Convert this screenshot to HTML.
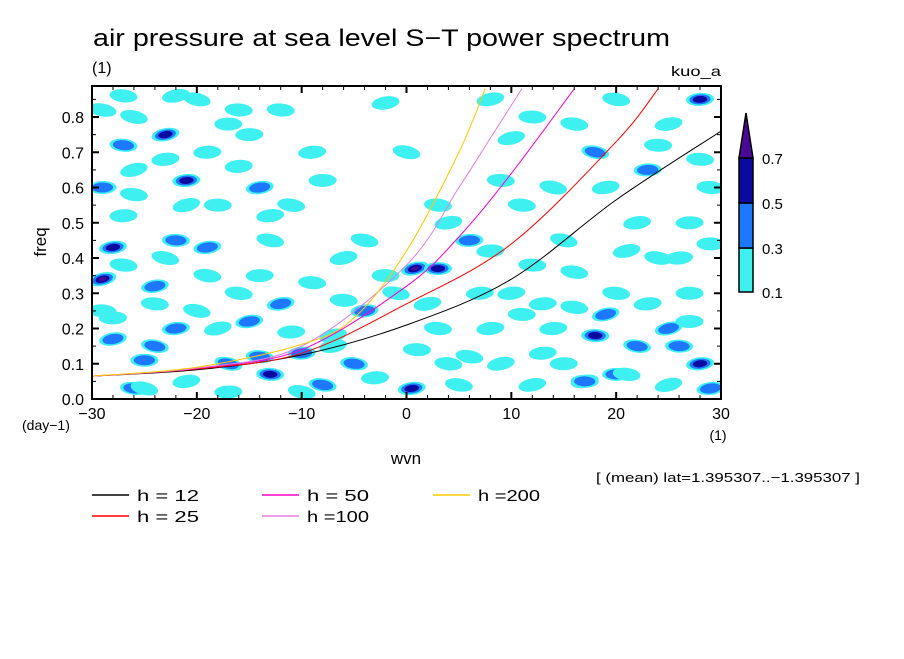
<!DOCTYPE html>
<html><head><meta charset="utf-8"><style>
body{margin:0;background:#fff;width:904px;height:654px;overflow:hidden;font-family:"Liberation Sans",sans-serif}
svg text{font-family:"Liberation Sans",sans-serif;fill:#000}
</style></head><body>
<svg id="c" width="904" height="654"></svg>
<script>
const curveNames=["h = 12","h = 25","h = 50","h =100","h =200"];
const curveColors=["#000","#ff0000","#ff00c8","#e080e0","#ffc800"];
const curveK=[[-30,-20,-10,0,10,20,30],[-30,-20,-10,0,10,20,24],[-30,-20,-10,0,5,10,16],[-30,-20,-10,0,5,8,11],[-30,-20,-10,-5,0,5,7.5]];
const curveF=[[0.065,0.083,0.125,0.21,0.34,0.565,0.76],[0.065,0.085,0.13,0.27,0.44,0.73,0.88],[0.065,0.087,0.14,0.32,0.46,0.64,0.88],[0.065,0.088,0.15,0.38,0.6,0.74,0.88],[0.065,0.09,0.155,0.23,0.42,0.7,0.88]];
const blobK=[-29,-28,-29,-27,-26,-28,-27,-29,-24,-23,-21,-22,-19,-18,-22,-25,-26,-17,-14,-15,-12,-13,-12,-10,-13,-8,-6,-4,-2,-5,0.8,0.5,3,3,0,-2,6,9,6,12,14,18,22,25,28,27,20,15,22,27,29,18,25,28,12,20,8,-9,-18,-16,-26,10,15,3,-20,-24,-19,-16,24,17,13,26,-11,-7,8,20,4,
 -25,-21,-17,-14,-10,-7,-3,1,5,9,13,17,21,25,29,-28,-24,-20,-15,-11,-6,-1,2,7,11,16,19,23,27,-27,-23,-19,-14,-9,-4,4,8,12,16,21,26,29,-26,-21,-13,-8,11,14,19,23,28,-29,-22,-16,24,16,10,-23,-17,-27];
const blobF=[0.34,0.43,0.6,0.72,0.8,0.17,0.52,0.25,0.15,0.75,0.62,0.45,0.35,0.2,0.2,0.11,0.03,0.1,0.6,0.75,0.82,0.45,0.27,0.13,0.07,0.04,0.4,0.25,0.35,0.1,0.37,0.03,0.37,0.55,0.7,0.84,0.45,0.62,0.12,0.04,0.2,0.18,0.15,0.2,0.1,0.3,0.3,0.45,0.5,0.5,0.6,0.7,0.78,0.85,0.8,0.85,0.85,0.7,0.55,0.3,0.65,0.3,0.1,0.2,0.85,0.32,0.7,0.82,0.4,0.05,0.27,0.15,0.55,0.18,0.2,0.07,0.1,
 0.03,0.05,0.02,0.12,0.02,0.15,0.06,0.14,0.04,0.1,0.13,0.05,0.07,0.04,0.03,0.23,0.27,0.25,0.22,0.19,0.28,0.3,0.27,0.3,0.24,0.26,0.24,0.27,0.22,0.38,0.4,0.43,0.35,0.33,0.45,0.5,0.42,0.38,0.36,0.42,0.4,0.44,0.58,0.55,0.52,0.62,0.55,0.6,0.6,0.65,0.68,0.82,0.86,0.66,0.72,0.78,0.74,0.68,0.78,0.86];
const blobL=[4,3,2,2,1,2,1,1,2,3,3,2,1,1,2,2,2,2,2,1,1,1,2,2,3,2,1,2,1,2,4,3,3,1,1,1,2,1,1,1,1,3,2,2,3,1,1,1,1,1,1,2,1,3,1,1,1,1,1,1,1,1,1,1,1,2,1,1,1,2,1,2,1,1,1,2,1,
 1,1,1,2,1,1,1,1,1,1,1,2,1,1,2,1,1,1,2,1,1,1,1,1,1,1,2,1,1,1,1,2,1,1,1,1,1,1,1,1,1,1,1,1,1,1,1,1,1,2,1,1,1,1,1,1,1,1,1,1];
const X0=92,X1=721,Y0=399,Y1=86;
const xs=k=>X0+(k+30)/60*(X1-X0);
const ys=f=>Y0-f/0.888*(Y0-Y1);
const NS="http://www.w3.org/2000/svg",svg=document.getElementById('c');
function el(t,a,p){const e=document.createElementNS(NS,t);for(const k in a)e.setAttribute(k,a[k]);(p||svg).appendChild(e);return e;}
function tx(s,x,y,sz,anchor,len){const a={x:x,y:y,'font-size':sz,'text-anchor':anchor||'start'};if(len){a.textLength=len;a.lengthAdjust='spacingAndGlyphs';}const e=el('text',a);e.textContent=s;return e;}
const fills=["#3ff0f0","#1e78ff","#0a0aa0","#4b0a96"];
el('clipPath',{id:'pc'}).appendChild(el('rect',{x:X0,y:Y1,width:X1-X0,height:Y0-Y1}));
const g=el('g',{'clip-path':'url(#pc)'});


for(let i=0;i<blobK.length;i++){
  const rot=((i*37)%30-15)*0.9;
  for(let l=0;l<blobL[i];l++){
    const cx=xs(blobK[i]),cy=ys(blobF[i]);
    const e=el('ellipse',{cx:cx,cy:cy,rx:(14-l*3.4),ry:(6.5-l*1.5),fill:fills[l],transform:'rotate('+rot+' '+cx+' '+cy+')'},g);
    
    
  }
}
function cr(pts){let d='M'+pts[0][0]+','+pts[0][1];for(let i=0;i<pts.length-1;i++){const p0=pts[Math.max(0,i-1)],p1=pts[i],p2=pts[i+1],p3=pts[Math.min(pts.length-1,i+2)];d+=' C'+(p1[0]+(p2[0]-p0[0])/6)+','+(p1[1]+(p2[1]-p0[1])/6)+' '+(p2[0]-(p3[0]-p1[0])/6)+','+(p2[1]-(p3[1]-p1[1])/6)+' '+p2[0]+','+p2[1];}return d;}
for(let c=0;c<curveK.length;c++){
  const pts=curveK[c].map((k,i)=>[xs(k),ys(curveF[c][i])]);
  const p=el('path',{d:cr(pts),fill:'none',stroke:curveColors[c],'stroke-width':1},g);
  
  
}
el('rect',{x:X0,y:Y1,width:X1-X0,height:Y0-Y1,fill:'none',stroke:'#000','stroke-width':2});
for(let k=-30;k<=30;k+=2){const m=k%10===0;el('line',{x1:xs(k),x2:xs(k),y1:Y0,y2:Y0-(m?7:4),stroke:'#000','stroke-width':m?2:1});el('line',{x1:xs(k),x2:xs(k),y1:Y1,y2:Y1+(m?7:4),stroke:'#000','stroke-width':m?2:1});}
for(let f=0;f<=0.88;f+=0.05){const m=Math.round(f*100)%10===0;el('line',{x1:X0,x2:X0+(m?7:4),y1:ys(f),y2:ys(f),stroke:'#000','stroke-width':m?2:1});el('line',{x1:X1,x2:X1-(m?7:4),y1:ys(f),y2:ys(f),stroke:'#000','stroke-width':m?2:1});}
const xl=["−30","−20","−10","0","10","20","30"],xv=[-30,-20,-10,0,10,20,30];
xv.forEach((k,i)=>tx(xl[i],xs(k),419,16,'middle'));
for(let i=0;i<=8;i++)tx((i/10).toFixed(1),84,ys(i/10)+6,16,'end');
tx("(day−1)",22,430,14);tx("(1)",718,440,14,'middle');
tx("wvn",406,464,17,'middle');
const yt=tx("freq",0,0,17,'middle');yt.setAttribute('transform','translate(46,242) rotate(-90)');
tx("air pressure at sea level S−T power spectrum",93,46,24,'start',577);
tx("(1)",92,73,16);tx("kuo_a",721,76,14,'end',50);
tx("[ (mean) lat=1.395307..−1.395307 ]",860,482,13,'end',264);
const cb=[["#3ff0f0",292,248],["#1e78ff",248,203],["#0a0aa0",203,158]];
cb.forEach(c=>el('rect',{x:739,y:c[2],width:14,height:c[1]-c[2],fill:c[0],stroke:'#000','stroke-width':1.5}));
el('polygon',{points:'739,158 753,158 746,113',fill:'#4b0a96',stroke:'#000','stroke-width':1.5});
[["0.1",292],["0.3",248],["0.5",203],["0.7",158]].forEach(t=>tx(t[0],762,t[1]+6,15));
const lx=[92,92,262,262,433],ly=[495,516,495,516,495];
[0,1,2,3,4].forEach(i=>{el('line',{x1:lx[i],x2:lx[i]+37,y1:ly[i],y2:ly[i],stroke:curveColors[i],'stroke-width':1.5});tx(curveNames[i],lx[i]+45,ly[i]+6,16,'start',62);});
</script></body></html>
